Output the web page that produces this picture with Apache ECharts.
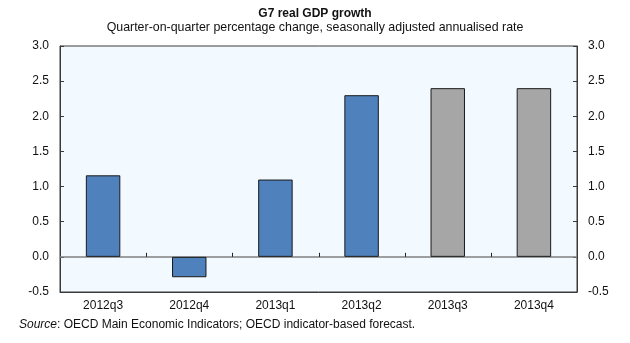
<!DOCTYPE html>
<html>
<head>
<meta charset="utf-8">
<script src="https://cdn.jsdelivr.net/npm/echarts@6/dist/echarts.min.js"></script>
<style>
  html, body { margin: 0; padding: 0; background: #ffffff; }
  #chart { width: 630px; height: 343px; }
</style>
</head>
<body>
<div id="chart"></div>
<script>
// Quarters shown on the category axis
const quarters = ['2012q3', '2012q4', '2013q1', '2013q2', '2013q3', '2013q4'];
// Outturns (blue) and indicator-based forecasts (grey), % q-o-q saar
const outturn = [1.16, -0.29, 1.1, 2.3, null, null];
const forecast = [null, null, null, null, 2.4, 2.4];
// Value axis settings
const yMin = -0.5, yMax = 3.0, yStep = 0.5;
// Category boundaries that get a small tick on the zero line
const boundaries = [1, 2, 3, 4, 5];

const font = 'Liberation Sans, Arial, sans-serif';
const chart = echarts.init(document.getElementById('chart'));

const valueAxis = (pos) => ({
  type: 'value',
  position: pos,
  min: yMin, max: yMax, interval: yStep,
  axisLine: { show: true, lineStyle: { color: '#3a3a3a', width: 1 } },
  axisTick: { show: true, inside: true, length: 4, lineStyle: { color: '#3a3a3a' } },
  axisLabel: {
    margin: 11, color: '#111', fontFamily: font, fontSize: 12,
    formatter: (v) => v.toFixed(1)
  },
  splitLine: { show: false }
});

chart.setOption({
  animation: false,
  title: [
    {
      text: 'G7 real GDP growth',
      left: 'center', top: 3,
      textStyle: { fontFamily: font, fontSize: 12, fontWeight: 'bold', color: '#111' }
    },
    {
      text: 'Quarter-on-quarter percentage change, seasonally adjusted annualised rate',
      left: 'center', top: 17,
      textStyle: { fontFamily: font, fontSize: 12.4, fontWeight: 'normal', color: '#111' }
    },
    {
      text: '{i|Source}: OECD Main Economic Indicators; OECD indicator-based forecast.',
      left: 14, top: 314,
      textStyle: {
        fontFamily: font, fontSize: 12, fontWeight: 'normal', color: '#111',
        rich: { i: { fontFamily: font, fontSize: 12, fontStyle: 'italic', color: '#111' } }
      }
    }
  ],
  grid: {
    left: 60, right: 53, top: 46, height: 246,
    show: true, backgroundColor: '#f3faff', borderColor: '#3a3a3a', borderWidth: 1
  },
  xAxis: {
    type: 'category', data: quarters, position: 'bottom',
    axisLine: { onZero: false, show: true, lineStyle: { color: '#3a3a3a' } },
    axisTick: { show: false },
    axisLabel: { margin: 8, color: '#111', fontFamily: font, fontSize: 12 }
  },
  yAxis: [valueAxis('left'), valueAxis('right')],
  series: [
    {
      type: 'bar', data: outturn, barWidth: '40%', barGap: '-100%', z: 3,
      itemStyle: { color: '#4f81bd', borderColor: '#1a1a1a', borderWidth: 1 },
      markLine: {
        silent: true, symbol: 'none', z: 2,
        label: { show: false },
        lineStyle: { color: '#7f7f7f', width: 1.5, type: 'solid' },
        data: [{ yAxis: 0 }]
      }
    },
    {
      type: 'bar', data: forecast, barWidth: '40%', barGap: '-100%', z: 3,
      itemStyle: { color: '#a6a6a6', borderColor: '#1a1a1a', borderWidth: 1 }
    },
    {
      // short upward ticks on the zero line between neighbouring quarters
      type: 'custom', z: 4, silent: true,
      data: boundaries.map((b) => [b, 0]),
      encode: { x: 0, y: 1 },
      renderItem: (params, api) => {
        const band = api.size([1, 0])[0];
        const p = api.coord([api.value(0), api.value(1)]);
        const x = Math.round(p[0] - band / 2) + 0.5;
        return {
          type: 'line',
          shape: { x1: x, y1: p[1], x2: x, y2: p[1] - 4 },
          style: { stroke: '#222', lineWidth: 1 }
        };
      }
    }
  ]
});
</script>
</body>
</html>
